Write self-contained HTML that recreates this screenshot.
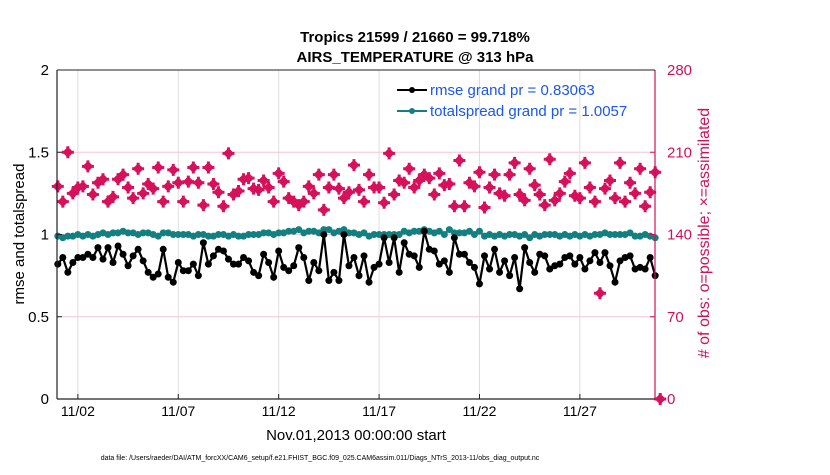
<!DOCTYPE html>
<html><head><meta charset="utf-8"><style>
body{margin:0;background:#fff;}
svg text{font-family:"Liberation Sans",Arial,sans-serif;}
</style></head><body>
<svg id="chart" width="830" height="470" xmlns="http://www.w3.org/2000/svg">
<rect width="830" height="470" fill="#fff"/>
<g id="grid"></g>
<g id="series"></g>
<g id="axes"></g>
<text x="415" y="42" text-anchor="middle" font-size="15" font-weight="bold">Tropics 21599 / 21660 = 99.718%</text>
<text x="415" y="62" text-anchor="middle" font-size="15" font-weight="bold">AIRS_TEMPERATURE @ 313 hPa</text>
<text transform="translate(24,234) rotate(-90)" text-anchor="middle" font-size="15">rmse and totalspread</text>
<text transform="translate(709,233) rotate(-90)" text-anchor="middle" font-size="16" fill="#d0105a"># of obs: o=possible; ×=assimilated</text>
<text x="356" y="440" text-anchor="middle" font-size="15">Nov.01,2013 00:00:00 start</text>
<text x="320" y="460" text-anchor="middle" font-size="7">data file: /Users/raeder/DAI/ATM_forcXX/CAM6_setup/f.e21.FHIST_BGC.f09_025.CAM6assim.011/Diags_NTrS_2013-11/obs_diag_output.nc</text>
<g>
<line x1="397" y1="90" x2="427" y2="90" stroke="#000" stroke-width="2"/><circle cx="412" cy="90" r="3" fill="#000"/>
<text x="430" y="95" font-size="15" fill="#1a56f0">rmse grand pr = 0.83063</text>
<line x1="397" y1="111" x2="427" y2="111" stroke="#128080" stroke-width="2"/><circle cx="412" cy="111" r="3" fill="#128080"/>
<text x="430" y="116" font-size="15" fill="#1a56f0">totalspread grand pr = 1.0057</text>
</g>
</svg>
<script>
const rmse=[0.82,0.86,0.77,0.83,0.86,0.86,0.88,0.86,0.92,0.85,0.92,0.83,0.93,0.88,0.81,0.87,0.91,0.84,0.77,0.74,0.76,0.91,0.74,0.71,0.83,0.78,0.78,0.82,0.75,0.95,0.82,0.87,0.91,0.90,0.85,0.82,0.82,0.86,0.84,0.77,0.75,0.88,0.83,0.74,0.90,0.80,0.78,0.81,0.92,0.86,0.72,0.83,0.78,1.00,0.72,0.77,0.72,1.00,0.81,
0.86,0.75,0.87,0.71,0.80,0.82,0.98,0.83,0.98,0.77,0.95,0.88,0.87,0.80,1.02,0.91,0.90,0.82,0.84,0.77,0.98,0.88,0.88,0.83,0.80,0.70,0.87,0.79,0.91,0.77,0.84,0.75,0.86,0.67,0.92,0.83,0.77,0.88,0.87,0.79,0.81,0.82,0.86,0.87,0.82,0.86,0.79,0.84,0.89,0.83,0.89,0.81,0.71,0.84,0.86,0.87,0.79,0.80,0.79,0.86,0.75];
const spread=[0.99,0.98,0.99,0.99,1.00,0.99,1.00,0.99,1.00,1.01,1.00,1.01,1.01,1.02,1.01,1.01,1.00,1.01,1.01,1.00,0.99,1.01,1.01,1.00,1.00,1.00,1.00,0.99,1.00,1.00,0.99,0.99,1.00,1.00,0.99,1.00,0.99,0.99,1.00,1.00,1.00,1.01,1.01,1.00,1.01,1.01,1.02,1.02,1.03,1.01,1.02,1.02,1.01,1.03,1.03,1.01,1.02,1.03,1.01,
1.01,1.00,1.01,0.99,1.00,1.00,1.00,1.00,1.00,1.00,1.02,1.01,1.02,1.02,1.03,1.02,1.01,1.02,1.00,1.03,1.01,1.01,1.01,1.02,1.00,1.02,0.99,1.00,0.99,1.00,0.99,1.00,1.00,0.99,1.00,0.98,1.00,0.99,1.00,1.00,1.00,0.99,1.00,0.99,1.00,0.99,1.00,0.99,1.00,1.00,1.01,1.00,1.00,1.00,1.00,1.01,0.99,0.99,1.00,0.99,0.98];
const obs=[181,168,210,175,180,181,198,174,184,187,168,172,187,191,180,171,196,175,183,179,197,168,181,195,184,168,185,197,184,165,197,183,176,164,209,174,177,187,188,179,178,186,180,168,192,185,171,168,165,168,181,175,191,161,180,191,179,171,176,
199,178,168,191,180,180,167,209,174,186,184,196,180,186,191,188,174,192,182,183,164,203,164,184,181,193,163,180,191,175,173,191,201,174,169,196,182,174,165,204,169,175,185,192,173,171,201,180,168,90,179,186,171,201,168,184,175,196,164,176,193,0];
const leftTicks=[0,0.5,1,1.5,2];
const leftTickLabels=["0","0.5","1","1.5","2"];
const rightTicks=[0,70,140,210,280];
const dayTicks=[1,6,11,16,21,26];
const dayTickLabels=["11/02","11/07","11/12","11/17","11/22","11/27"];

const NS="http://www.w3.org/2000/svg";
const L=57,R=655,T=70,B=399;
const xIdx=i=>57.8+i*5.02;
const xDay=d=>57.8+d*20.08;
const yL=v=>B-(v/2)*(B-T);
const yR=v=>B-(v/280)*(B-T);
function mk(tag,attrs,parent){const e=document.createElementNS(NS,tag);for(const k in attrs)e.setAttribute(k,attrs[k]);parent.appendChild(e);return e;}
const grid=document.getElementById('grid'),ser=document.getElementById('series'),ax=document.getElementById('axes');
dayTicks.forEach((d,i)=>{
  const g=mk('line',{x1:xDay(d),x2:xDay(d),y1:T,y2:B,stroke:'#dedede','stroke-width':1},grid);
  
  
  mk('line',{x1:xDay(d),x2:xDay(d),y1:B,y2:B-5,stroke:'#222'},ax);
  const t=mk('text',{x:xDay(d),y:B+17,'text-anchor':'middle','font-size':14},ax);t.textContent=dayTickLabels[i];
  
  
});
rightTicks.forEach((v,i)=>{
  if(v>0&&v<280){const g=mk('line',{x1:L,x2:R,y1:yR(v),y2:yR(v),stroke:'#f3c6d6','stroke-width':1},grid);
  
  }
  mk('line',{x1:R,x2:R-5,y1:yR(v),y2:yR(v),stroke:'#d0105a'},ax);
  const t=mk('text',{x:R+12,y:yR(v)+5,'font-size':15,fill:'#d0105a'},ax);t.textContent=String(v);
  
  
});
leftTicks.forEach((v,i)=>{
  mk('line',{x1:L,x2:L+5,y1:yL(v),y2:yL(v),stroke:'#222'},ax);
  const t=mk('text',{x:L-8,y:yL(v)+5,'text-anchor':'end','font-size':15},ax);t.textContent=leftTickLabels[i];
  
  
});
mk('line',{x1:L,x2:L,y1:T,y2:B,stroke:'#222','stroke-width':1.2},ax);
mk('line',{x1:L,x2:R,y1:B,y2:B,stroke:'#222','stroke-width':1.2},ax);
mk('line',{x1:R,x2:R,y1:T,y2:B,stroke:'#d0105a','stroke-width':1.2},ax);
mk('line',{x1:L,x2:R,y1:T,y2:T,stroke:'#222','stroke-width':1},ax);
obs.forEach((v,i)=>{
  const x=xIdx(i),y=yR(v);
  const p=mk('path',{d:`M${x},${y-5.5}L${x+5.5},${y}L${x},${y+5.5}L${x-5.5},${y}Z M${x-1.5},${y-6}h3v12h-3Z M${x-6},${y-1.5}h12v3h-12Z`,fill:'#d6105a'},ser);
  
  
});
function line(arr,color,name){
  const pl=mk('polyline',{points:arr.map((v,i)=>xIdx(i)+','+yL(v)).join(' '),fill:'none',stroke:color,'stroke-width':2.2},ser);
  
  
  arr.forEach((v,i)=>{const c=mk('circle',{cx:xIdx(i),cy:yL(v),r:3.5,fill:color},ser);
  
  });
}
line(spread,'#128080','totalspread');
line(rmse,'#000','rmse');
</script>
</body></html>
